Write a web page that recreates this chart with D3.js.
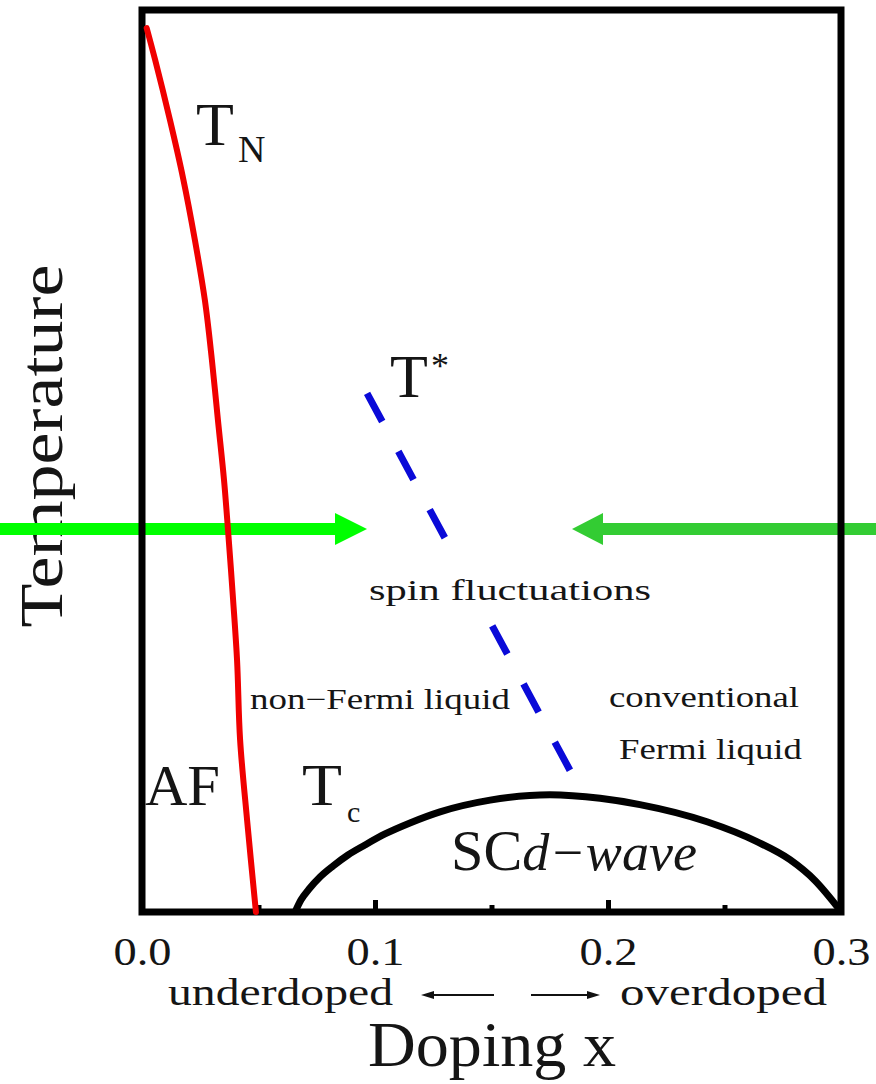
<!DOCTYPE html>
<html>
<head>
<meta charset="utf-8">
<script src="https://cdn.jsdelivr.net/npm/d3@7"></script>
<style>
  body { margin: 0; background: #fff; }
  svg { display: block; }
  text { font-family: "Liberation Serif", "Times New Roman", serif; fill: #151515; }
</style>
</head>
<body>
<svg id="chart" width="876" height="1084"></svg>
<script>
// Doping axis ticks
const majorTicks = [0.0, 0.1, 0.2, 0.3];
const minorTicks = [0.05, 0.15, 0.25];

// Neel temperature T_N (temperature normalised to the frame height)
const neelDoping = [0.002, 0.0056, 0.012, 0.0176, 0.0227, 0.027, 0.030, 0.0326, 0.0352, 0.0369, 0.0391, 0.0408, 0.0421, 0.0451, 0.0489];
const neelTemp   = [0.980, 0.945, 0.878, 0.814, 0.745, 0.678, 0.612, 0.545, 0.479, 0.424, 0.346, 0.279, 0.191, 0.102, 0.0];

// Pseudogap crossover T*
const starDoping = [0.0966, 0.1837];
const starTemp   = [0.575, 0.157];

// Superconducting dome T_c
const domeDoping = [0.0657, 0.0682, 0.0717, 0.0764, 0.0820, 0.0884, 0.0957, 0.1043, 0.1150, 0.1279, 0.1494, 0.1751, 0.1966, 0.2137, 0.2425, 0.2639, 0.2781, 0.2888, 0.2996];
const domeTemp   = [0.0, 0.0133, 0.0255, 0.0388, 0.0510, 0.0632, 0.0743, 0.0865, 0.0987, 0.111, 0.124, 0.130, 0.126, 0.119, 0.100, 0.078, 0.058, 0.035, 0.002];

const svg = d3.select("#chart");

const x = d3.scaleLinear().domain([0, 0.3]).range([142, 841]);
const y = d3.scaleLinear().domain([0, 1]).range([912, 10]);

const zip = (xs, ys) => xs.map((v, i) => [v, ys[i]]);
const line = d3.line().x(d => x(d[0])).y(d => y(d[1])).curve(d3.curveCatmullRom.alpha(0.5));
const domeLine = d3.line().x(d => x(d[0])).y(d => y(d[1])).curve(d3.curveMonotoneX);

function label(txt, px, py, size, len, opts = {}) {
  const t = svg.append("text")
    .attr("x", px).attr("y", py)
    .attr("font-size", size)
    .text(txt);
  if (len) t.attr("textLength", len).attr("lengthAdjust", "spacingAndGlyphs");
  if (opts.italic) t.attr("font-style", "italic");
  if (opts.anchor) t.attr("text-anchor", opts.anchor);
  if (opts.transform) t.attr("transform", opts.transform);
  return t;
}

// Vertical axis title
label("Temperature", 0, 0, 62, 363, { anchor: "middle", transform: "translate(62,446) rotate(-90)" });

// Green pointer arrows
const arrowY = 529;
svg.append("rect").attr("x", 0).attr("y", arrowY - 6).attr("width", 336).attr("height", 12).attr("fill", "#00ff00");
svg.append("path").attr("d", `M335,${arrowY - 16}L367,${arrowY}L335,${arrowY + 16}Z`).attr("fill", "#00ff00");
svg.append("rect").attr("x", 602).attr("y", arrowY - 6).attr("width", 274).attr("height", 12).attr("fill", "#33cc33");
svg.append("path").attr("d", `M603,${arrowY - 16}L572,${arrowY}L603,${arrowY + 16}Z`).attr("fill", "#33cc33");

// Frame
svg.append("rect")
  .attr("x", x(0)).attr("y", y(1))
  .attr("width", x(0.3) - x(0)).attr("height", y(0) - y(1))
  .attr("fill", "none").attr("stroke", "#000").attr("stroke-width", 7);

// Inward ticks along the doping axis
const majorAxis = d3.axisBottom(x).tickValues(majorTicks).tickSize(-12).tickFormat(d3.format(".1f"));
const gMajor = svg.append("g").attr("transform", `translate(0,${y(0)})`).call(majorAxis);
gMajor.select(".domain").remove();
gMajor.selectAll(".tick line").attr("stroke", "#000").attr("stroke-width", 5);
gMajor.selectAll(".tick text")
  .attr("dy", null).attr("y", 53)
  .attr("font-size", 41).attr("font-family", "Liberation Serif, serif").attr("fill", "#151515")
  .attr("textLength", 58).attr("lengthAdjust", "spacingAndGlyphs");

const minorAxis = d3.axisBottom(x).tickValues(minorTicks).tickSize(-7).tickFormat("");
const gMinor = svg.append("g").attr("transform", `translate(0,${y(0)})`).call(minorAxis);
gMinor.select(".domain").remove();
gMinor.selectAll(".tick line").attr("stroke", "#000").attr("stroke-width", 5);

// T* crossover (dashed)
svg.append("path")
  .attr("d", line(zip(starDoping, starTemp)))
  .attr("fill", "none").attr("stroke", "#0a0ad8").attr("stroke-width", 7)
  .attr("stroke-dasharray", "32,34");

// Neel line
svg.append("path")
  .attr("d", line(zip(neelDoping, neelTemp)))
  .attr("fill", "none").attr("stroke", "#f00000").attr("stroke-width", 6)
  .attr("stroke-linecap", "round");

// Superconducting dome
svg.append("path")
  .attr("d", domeLine(zip(domeDoping, domeTemp)))
  .attr("fill", "none").attr("stroke", "#000").attr("stroke-width", 7);

// Region and line labels
label("T", 196, 145, 62);
label("N", 238, 162, 38);
label("T", 390, 397, 62);
label("*", 431, 378, 36);

svg.append("rect").attr("x", 364).attr("y", 566).attr("width", 294).attr("height", 46).attr("fill", "#fff");
label("spin fluctuations", 369, 600, 29, 282);

label("non\u2212Fermi liquid", 250, 709, 29, 260);
label("conventional", 609, 707, 29, 190);
label("Fermi liquid", 619, 759, 29, 183);

label("AF", 145, 805, 57, 75);
label("T", 302, 805, 60, 40);
label("c", 347, 822, 30);

// Superconducting phase label: upright "SC" followed by italic pairing symmetry
const sc = svg.append("text").attr("x", 451).attr("y", 870)
  .attr("textLength", 246).attr("lengthAdjust", "spacingAndGlyphs");
sc.append("tspan").attr("font-size", 56).text("SC");
sc.append("tspan").attr("font-size", 52).attr("font-style", "italic").text("d\u2212wave");

// Doping direction row
label("underdoped", 168, 1005, 37, 225);
label("overdoped", 620, 1005, 37, 207);
const rowY = 995;
svg.append("line").attr("x1", 430).attr("x2", 494).attr("y1", rowY).attr("y2", rowY).attr("stroke", "#111").attr("stroke-width", 2);
svg.append("path").attr("d", `M421,${rowY}L434,${rowY - 4}L434,${rowY + 4}Z`).attr("fill", "#111");
svg.append("line").attr("x1", 531).attr("x2", 591).attr("y1", rowY).attr("y2", rowY).attr("stroke", "#111").attr("stroke-width", 2);
svg.append("path").attr("d", `M600,${rowY}L587,${rowY - 4}L587,${rowY + 4}Z`).attr("fill", "#111");

// Horizontal axis title
label("Doping x", 368, 1066, 64, 248);
</script>
</body>
</html>
